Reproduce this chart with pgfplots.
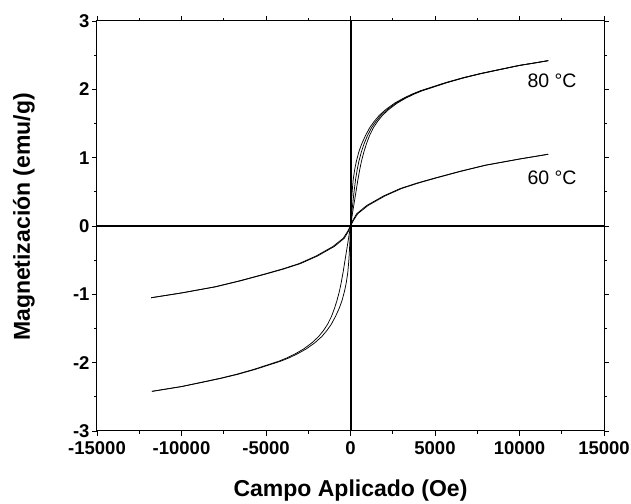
\documentclass[border=0pt]{standalone}
\usepackage{fontspec}
\setmainfont{Liberation Sans}
\usepackage{pgfplots}
\pgfplotsset{compat=1.18}
\begin{document}
\begin{tikzpicture}
\begin{axis}[
  scale only axis, width=507bp, height=410bp,
  xmin=-15000, xmax=15000, ymin=-3, ymax=3,
  scaled x ticks=false, scaled y ticks=false,
  xtick={-15000,-10000,-5000,0,5000,10000,15000},
  xticklabels={-15000,-10000,-5000,0,5000,10000,15000},
  ytick={-3,-2,-1,0,1,2,3},
  yticklabels={-3,-2,-1,0,1,2,3},
  minor x tick num=1, minor y tick num=1,
  tick align=outside,
  major tick length=5bp, minor tick length=3bp,
  tick style={black, line width=0.8bp},
  axis line style={line width=1bp},
  tick label style={font=\fontsize{18.5bp}{20bp}\selectfont\bfseries},
  xticklabel style={yshift=-2bp},
  yticklabel style={xshift=1bp},
  xlabel={Campo Aplicado (Oe)},
  ylabel={Magnetización (emu/g)},
  label style={font=\fontsize{23bp}{26bp}\selectfont\bfseries},
  xlabel style={at={([yshift=-60bp]axis description cs:0.5,0)}, anchor=center},
  ylabel style={at={([xshift=-73bp,yshift=9bp]axis description cs:0,0.5)}, anchor=center},
]
\draw[line width=2bp] (axis cs:0,-3) -- (axis cs:0,3);
\draw[line width=2bp] (axis cs:-15000,0) -- (axis cs:15000,0);
% 80 C descending branch
\addplot[black, line width=0.75bp] table {
11700 2.42
10990 2.39
9980 2.35
8620 2.28
7665 2.23
6660 2.17
5655 2.10
4650 2.02
4145 1.98
3640 1.93
3135 1.87
2625 1.80
2115 1.71
1705 1.62
1400 1.53
1140 1.44
880 1.32
660 1.20
500 1.09
350 0.95
250 0.83
160 0.68
90 0.48
40 0.25
0 0
-160 -0.25
-310 -0.48
-440 -0.68
-550 -0.83
-650 -0.95
-800 -1.09
-940 -1.20
-1120 -1.32
-1360 -1.44
-1600 -1.53
-1895 -1.62
-2285 -1.71
-2775 -1.80
-3265 -1.87
-3760 -1.93
-4255 -1.98
-4750 -2.02
-5745 -2.10
-6740 -2.17
-7735 -2.23
-8680 -2.28
-10020 -2.35
-11010 -2.39
-11750 -2.42
};
% 80 C ascending branch
\addplot[black, line width=0.75bp] table {
-11750 -2.42
-10990 -2.39
-9980 -2.35
-8620 -2.28
-7665 -2.23
-6660 -2.17
-5655 -2.10
-4650 -2.02
-4145 -1.98
-3640 -1.93
-3135 -1.87
-2625 -1.80
-2115 -1.71
-1705 -1.62
-1400 -1.53
-1140 -1.44
-880 -1.32
-660 -1.20
-500 -1.09
-350 -0.95
-250 -0.83
-160 -0.68
-90 -0.48
-40 -0.25
0 0
160 0.25
310 0.48
440 0.68
550 0.83
650 0.95
800 1.09
940 1.20
1120 1.32
1360 1.44
1600 1.53
1895 1.62
2285 1.71
2775 1.80
3265 1.87
3760 1.93
4255 1.98
4750 2.02
5745 2.10
6740 2.17
7735 2.23
8680 2.28
10020 2.35
11010 2.39
11700 2.42
};
% 80 C initial curve
\addplot[black, line width=0.75bp] table {
0 0
100 0.25
200 0.48
300 0.68
400 0.83
500 0.95
650 1.09
800 1.20
1000 1.32
1250 1.44
1500 1.53
1800 1.62
2200 1.71
2700 1.80
3200 1.87
3700 1.93
4200 1.98
4700 2.02
5700 2.10
6700 2.17
7700 2.23
8650 2.28
10000 2.35
11000 2.39
11700 2.42
};
% 60 C descending
\addplot[black, line width=0.75bp] table {
11700 1.05
9985 0.98
7975 0.89
6470 0.80
4965 0.70
3960 0.63
2960 0.55
1960 0.44
960 0.30
370 0.18
130 0.08
0 0
-170 -0.08
-430 -0.18
-1040 -0.30
-2040 -0.44
-3040 -0.55
-4040 -0.63
-5035 -0.70
-6530 -0.80
-8025 -0.89
-10015 -0.98
-11800 -1.05
};
% 60 C ascending
\addplot[black, line width=0.75bp] table {
-11800 -1.05
-9985 -0.98
-7975 -0.89
-6470 -0.80
-4965 -0.70
-3960 -0.63
-2960 -0.55
-1960 -0.44
-960 -0.30
-370 -0.18
-130 -0.08
0 0
170 0.08
430 0.18
1040 0.30
2040 0.44
3040 0.55
4040 0.63
5035 0.70
6530 0.80
8025 0.89
10015 0.98
11700 1.05
};
\node[font=\fontsize{19.5bp}{22bp}\selectfont] at (axis cs:11923,2.12) {80 °C};
\node[font=\fontsize{19.5bp}{22bp}\selectfont] at (axis cs:11923,0.70) {60 °C};
\end{axis}
\pgfresetboundingbox
\path ([shift={(-97bp,-73bp)}]current axis.south west) rectangle ([shift={(27bp,21bp)}]current axis.north east);
\end{tikzpicture}
\end{document}
